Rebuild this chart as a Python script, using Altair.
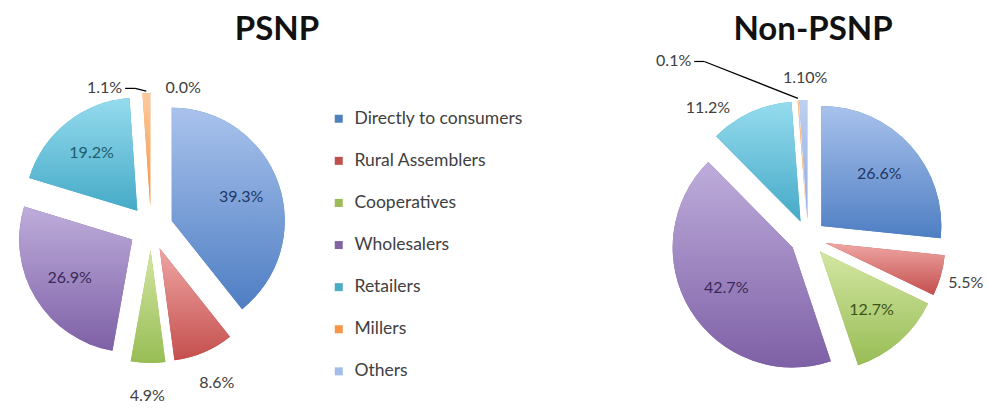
import altair as alt
import pandas as pd

# ---------------- data ----------------
categories = ["Directly to consumers", "Rural Assemblers", "Cooperatives",
              "Wholesalers", "Retailers", "Millers", "Others"]
psnp_values = [39.3, 8.6, 4.9, 26.9, 19.2, 1.1, 0.0]
psnp_labels = ["39.3%", "8.6%", "4.9%", "26.9%", "19.2%", "1.1%", "0.0%"]
nonpsnp_values = [26.6, 5.5, 12.7, 42.7, 11.2, 0.1, 1.1]
nonpsnp_labels = ["26.6%", "5.5%", "12.7%", "42.7%", "11.2%", "0.1%", "1.10%"]

# ---------------- styles ----------------
fill_base = ["#4F81BD", "#C0504D", "#9BBB59", "#8064A2", "#4BACC6", "#F79646", "#A4BCE8"]
fill_light = ["#A9C2EC", "#EEA6A4", "#D2E6A2", "#BEADDB", "#95DBEE", "#FCCB9E", "#BDD0F1"]
fill_dark = ["#4E7EC3", "#C44F4D", "#98BD55", "#7E60A6", "#45AAC7", "#F39344", "#92ACDE"]
inside_text = ["#1F3864", "#632523", "#3A5518", "#3A2A57", "#1F5C6B", "#7F4A1D", "#1F3864"]
outside_text = "#404040"
FONT = "Lato"
LABEL_SIZE = 16

pies = [
    dict(name="PSNP", values=psnp_values, labels=psnp_labels,
         cx=151, cy=228, r=113, explode=22, gap=33, title_x=277,
         label_angle=[None, None, None, None, None, -10.5, 12.9],
         label_radius=[None, None, None, None, None, 142, 144],
         leader=[0, 0, 0, 0, 0, 1, 0]),
    dict(name="Non-PSNP", values=nonpsnp_values, labels=nonpsnp_labels,
         cx=808, cy=238, r=120, explode=18, gap=26, title_x=813,
         label_angle=[None, None, None, None, -37.6, -32.8, -1.0],
         label_radius=[None, None, None, None, 164, 210, 160],
         leader=[0, 0, 0, 0, 0, 1, 0]),
]


def js_array(vals):
    out = []
    for v in vals:
        if v is None:
            out.append("null")
        elif isinstance(v, str):
            out.append("'" + v + "'")
        else:
            out.append(str(v))
    return "[" + ",".join(out) + "]"


def pie_base(p):
    df = pd.DataFrame({"category": categories, "value": p["values"],
                       "label": p["labels"], "order": list(range(len(categories)))})
    cx, cy, r, d, gap = p["cx"], p["cy"], p["r"], p["explode"], p["gap"]
    return (
        alt.Chart(df)
        .transform_window(cum="sum(value)", sort=[alt.SortField("order")], frame=[None, 0])
        .transform_joinaggregate(total="sum(value)")
        .transform_calculate(t0="2*PI*(datum.cum - datum.value)/datum.total")
        .transform_calculate(t1="2*PI*datum.cum/datum.total")
        .transform_calculate(mid="(datum.t0 + datum.t1)/2")
        .transform_calculate(ex=f"{cx} + {d}*sin(datum.mid)")
        .transform_calculate(ey=f"{cy} - {d}*cos(datum.mid)")
        .transform_calculate(pct="100*datum.value/datum.total")
        .transform_calculate(oa=f"{js_array(p['label_angle'])}[datum.order]")
        .transform_calculate(orad=f"{js_array(p['label_radius'])}[datum.order]")
        .transform_calculate(leader=f"{js_array(p['leader'])}[datum.order]")
        .transform_calculate(inside="datum.pct >= 12 ? 1 : 0")
        .transform_calculate(la="isValid(datum.oa) ? datum.oa*PI/180 : datum.mid")
        .transform_calculate(
            lr=f"isValid(datum.orad) ? datum.orad : (datum.inside == 1 ? {d + 0.65 * r} : {r + d + gap})")
        .transform_calculate(
            tcolor=f"datum.inside == 1 ? {js_array(inside_text)}[datum.order] : '{outside_text}'")
        .transform_calculate(lx=f"{cx} + datum.lr*sin(datum.la)")
        .transform_calculate(ly=f"{cy} - datum.lr*cos(datum.la)")
        .transform_calculate(lx2="datum.lx + 10")
        .transform_calculate(edge_x=f"{cx} + {r + d + 2}*sin(datum.mid)")
        .transform_calculate(edge_y=f"{cy} - {r + d + 2}*cos(datum.mid)")
    )


layers = []
for pi, p in enumerate(pies):
    base = pie_base(p)
    r = p["r"]
    pos = dict(x=alt.X("ex:Q", scale=None, axis=None),
               y=alt.Y("ey:Q", scale=None, axis=None),
               theta=alt.Theta("t0:Q", scale=None),
               theta2="t1:Q")
    legend = alt.Legend(
        orient="none", legendX=330, legendY=110, title=None,
        symbolType="square", symbolSize=64, symbolStrokeWidth=0,
        labelFont=FONT, labelFontSize=17.5, labelColor="#404040", labelLimit=400,
        rowPadding=23.1, labelOffset=7, padding=0,
    ) if pi == 0 else None
    flat = base.transform_filter("datum.value > 0").mark_arc(radius=r).encode(
        color=alt.Color("category:N", scale=alt.Scale(domain=categories, range=fill_base),
                        legend=legend, sort=categories),
        **pos)
    layers.append(flat)
    for i, cat in enumerate(categories):
        grad = alt.Gradient(gradient="linear",
                            stops=[alt.GradientStop(offset=0, color=fill_light[i]),
                                   alt.GradientStop(offset=1, color=fill_dark[i])],
                            x1=0, x2=0, y1=0, y2=1)
        g = base.transform_filter(f"datum.order == {i} && datum.value > 0").mark_arc(
            radius=r, color=grad).encode(**pos)
        layers.append(g)

    txt_enc = dict(x=alt.X("lx:Q", scale=None, axis=None),
                   y=alt.Y("ly:Q", scale=None, axis=None),
                   text="label:N",
                   color=alt.Color("tcolor:N", scale=None))
    layers.append(base.transform_filter("datum.leader == 0").mark_text(
        font=FONT, fontSize=LABEL_SIZE, align="center", baseline="middle").encode(**txt_enc))
    layers.append(base.transform_filter("datum.leader == 1").mark_text(
        font=FONT, fontSize=LABEL_SIZE, align="right", baseline="middle", dx=-3).encode(**txt_enc))
    # leader lines
    layers.append(base.transform_filter("datum.leader == 1").mark_rule(
        color="#000000", strokeWidth=1.2).encode(
        x=alt.X("lx:Q", scale=None, axis=None), y=alt.Y("ly:Q", scale=None, axis=None),
        x2="lx2:Q", y2="ly:Q"))
    layers.append(base.transform_filter("datum.leader == 1").mark_rule(
        color="#000000", strokeWidth=1.2).encode(
        x=alt.X("lx2:Q", scale=None, axis=None), y=alt.Y("ly:Q", scale=None, axis=None),
        x2="edge_x:Q", y2="edge_y:Q"))

    title = alt.Chart(pd.DataFrame({"t": [p["name"]]})).mark_text(
        font=FONT, fontSize=33, fontWeight="bold", color="#111111",
        align="center", baseline="middle").encode(
        x=alt.value(p["title_x"]), y=alt.value(30), text="t:N")
    layers.append(title)

chart = alt.layer(*layers).properties(
    width=988, height=411, padding=0, autosize="none", background="white"
).configure_view(stroke=None)

chart.save("out.html", embed_options={"renderer": "svg", "actions": False})
